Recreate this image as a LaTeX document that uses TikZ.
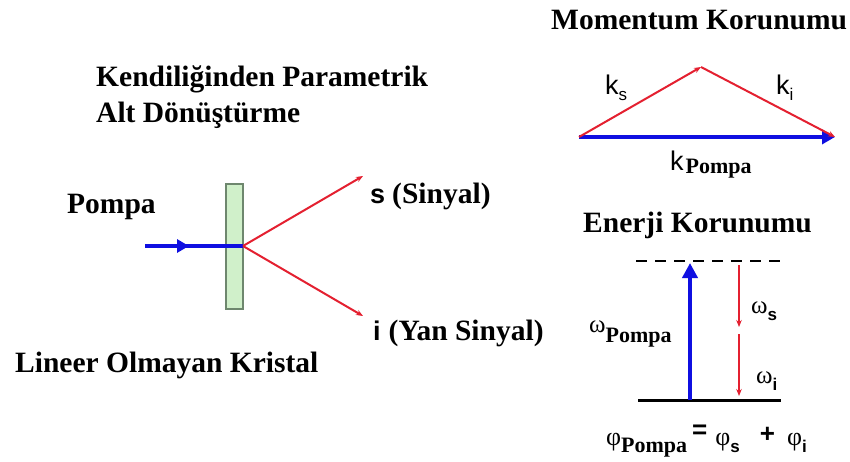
\documentclass[tikz,border=0pt]{standalone}
\usepackage{fontspec}
\setmainfont{Liberation Serif}
\newfontfamily\sansf{Liberation Sans}
\usetikzlibrary{arrows.meta}
\definecolor{pblue}{RGB}{15,15,225}
\definecolor{pred}{RGB}{228,32,48}
\definecolor{cfill}{RGB}{208,240,202}
\definecolor{cdraw}{RGB}{110,135,110}
\newcommand{\subP}[1][6pt]{\raisebox{-#1}{\fontsize{22}{22}\selectfont\rmfamily\bfseries Pompa}}
\newcommand{\subS}[1]{\raisebox{-6pt}{\fontsize{17}{17}\selectfont\sansf #1}}
\newcommand{\subB}[1]{\raisebox{-7pt}{\fontsize{17}{17}\selectfont\sansf\bfseries #1}}
\begin{document}
\begin{tikzpicture}[x=1pt,y=-1pt,
  title/.style={font=\fontsize{29.5}{30}\selectfont\bfseries, inner sep=0pt, anchor=base west},
  lbl/.style={font=\fontsize{27}{27}\selectfont\sansf, inner sep=0pt, anchor=base west},
  glbl/.style={font=\fontsize{25}{25}\selectfont, inner sep=0pt, anchor=base west},
  redray/.style={draw=pred, line width=2pt, -{Stealth[length=7pt,width=5.5pt]}},
  bluebeam/.style={draw=pblue, line width=4pt},
  crystal/.style={draw=cdraw, fill=cfill, line width=1.3pt, minimum width=17pt, minimum height=125pt, inner sep=0pt}]
\useasboundingbox (0,0) rectangle (850,462);
\fill[white] (0,0) rectangle (850,462);

% Left part
\node[title] (t1) at (96,87) {Kendiliğinden Parametrik};
\node[title] (t2) at (96,123) {Alt Dönüştürme};
\node[title] (pompa) at (67,214) {Pompa};
\node[title] (lok) at (15,372) {Lineer Olmayan Kristal};

\node[crystal] (cr) at (234.5,246.5) {};
\coordinate (pin) at (145,246);
\coordinate (pmid) at (189,246);
\coordinate (x0) at (243,246);
\coordinate (sEnd) at (363,176);
\coordinate (iEnd) at (363,316);
\draw[bluebeam] (pin) -- (x0);
\draw[bluebeam, -{Triangle[length=12pt,width=13pt]}] (pin) -- (pmid);
\draw[redray] (x0) -- (sEnd);
\draw[redray] (x0) -- (iEnd);

\node[inner sep=0pt, anchor=base west] (slab) at (370,204)
  {{\fontsize{27}{27}\selectfont\sansf\bfseries s}\hspace{7pt}{\fontsize{29.5}{30}\selectfont\bfseries (Sinyal)}};
\node[inner sep=0pt, anchor=base west] (ilab) at (373,340)
  {{\fontsize{27}{27}\selectfont\sansf\bfseries i}\hspace{8pt}{\fontsize{29.5}{30}\selectfont\bfseries (Yan Sinyal)}};

% Momentum
\node[title] (mom) at (551,30) {Momentum Korunumu};
\coordinate (mL) at (579,137);
\coordinate (mA) at (701,67);
\coordinate (mR) at (835,137);
\draw[draw=pblue, line width=4.5pt, -{Triangle[length=13pt,width=14pt]}] (mL) -- (mR);
\draw[redray] (mL) -- (mA);
\draw[redray] (mA) -- (mR);
\node[lbl] (ks) at (605,95) {k\subS{s}};
\node[lbl] (ki) at (776,95) {k\subS{i}};
\node[lbl] (kp) at (670,171) {k\hspace{2pt}\subP[3pt]};

% Energy
\node[title] (en) at (583,233) {Enerji Korunumu};
\coordinate (dL) at (636,261);
\coordinate (dR) at (780,261);
\coordinate (gL) at (638,400);
\coordinate (gR) at (781,400);
\draw[black, line width=2pt, dash pattern=on 11pt off 8pt] (dL) -- (dR);
\draw[black, line width=3pt] (gL) -- (gR);
\coordinate (bB) at (690,400);
\coordinate (bT) at (690,263);
\draw[draw=pblue, line width=4.5pt, -{Triangle[length=15pt,width=15pt]}] (bB) -- (bT);
\coordinate (r1) at (739,265);
\coordinate (r2) at (739,327);
\coordinate (r3) at (739,334);
\coordinate (r4) at (739,396);
\draw[redray] (r1) -- (r2);
\draw[redray] (r3) -- (r4);
\node[glbl] (ws) at (751,313) {ω\subB{s}};
\node[glbl] (wi) at (756,383) {ω\subB{i}};
\node[glbl] (wp) at (589,332) {ω\subP[10pt]};
\node[inner sep=0pt, anchor=base west, font=\fontsize{26}{26}\selectfont] (eq) at (606,445)
  {φ\subP[7pt]\hspace{5pt}\raisebox{7pt}{\sansf\bfseries =}\hspace{8pt}φ\subB{s}\hspace{20pt}\raisebox{3pt}{\sansf\bfseries +}\hspace{12pt}φ\subB{i}};
\end{tikzpicture}
\end{document}
